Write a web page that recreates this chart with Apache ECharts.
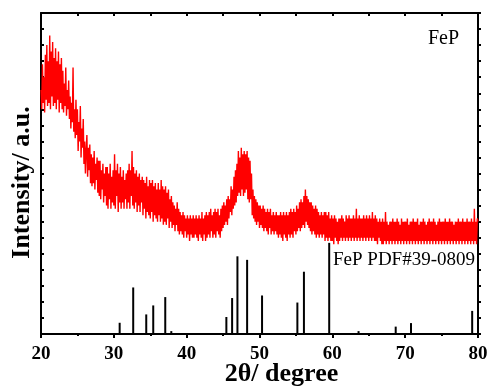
<!DOCTYPE html>
<html>
<head>
<meta charset="utf-8">
<script src="https://cdn.jsdelivr.net/npm/echarts@6/dist/echarts.min.js"></script>
<style>html,body{margin:0;padding:0;background:#fff}#c{width:492px;height:392px}</style>
</head>
<body>
<div id="c"></div>
<script>
// XRD scan: 2θ from 20 to 80 in 0.1° steps
const scanStart = 20;
const scanStep = 0.1;
const intensity = [
  76, 70, 84, 72, 80, 69, 87, 73, 90, 71,
  85, 72, 93, 70, 88, 74, 91, 71, 86, 72,
  89, 70, 85, 73, 88, 69, 84, 72, 86, 70,
  82, 69, 78, 71, 83, 68, 76, 70, 79, 67,
  74, 64, 72, 66, 83, 63, 70, 61, 73, 62,
  70, 57, 66, 60, 71, 55, 64, 58, 67, 53,
  60, 50, 57, 62, 49, 58, 51, 59, 47, 56,
  46, 55, 47, 57, 45, 53, 48, 55, 44, 54,
  43, 54, 42, 51, 45, 53, 41, 50, 43, 52,
  40, 52, 39, 50, 42, 53, 39, 49, 41, 51,
  40, 56, 39, 51, 43, 53, 38, 50, 41, 52,
  39, 49, 41, 51, 39, 48, 42, 50, 39, 51,
  41, 53, 39, 51, 43, 57, 40, 52, 39, 50,
  41, 51, 38, 49, 40, 50, 38, 48, 41, 49,
  37, 48, 39, 47, 36, 49, 38, 46, 37, 48,
  36, 47, 38, 48, 35, 46, 37, 47, 36, 45,
  35, 47, 37, 45, 35, 48, 36, 46, 34, 45,
  35, 46, 34, 44, 36, 45, 33, 42, 35, 43,
  33, 41, 34, 40, 32, 39, 34, 41, 32, 39,
  31, 38, 32, 37, 31, 38, 30, 37, 32, 36,
  30, 37, 31, 36, 29, 37, 31, 36, 30, 37,
  30, 36, 31, 37, 30, 36, 29, 37, 31, 36,
  30, 38, 29, 36, 31, 37, 29, 38, 30, 37,
  31, 38, 30, 39, 32, 37, 30, 38, 31, 39,
  30, 38, 32, 39, 31, 37, 30, 39, 32, 40,
  33, 41, 34, 40, 35, 42, 34, 43, 36, 42,
  38, 46, 37, 45, 39, 49, 40, 51, 41, 53,
  43, 57, 44, 55, 43, 58, 45, 56, 43, 57,
  44, 56, 45, 57, 42, 55, 41, 54, 42, 50,
  37, 45, 36, 43, 35, 42, 34, 41, 35, 40,
  33, 40, 34, 39, 33, 40, 32, 39, 33, 38,
  32, 39, 31, 38, 33, 39, 31, 37, 32, 38,
  31, 37, 32, 38, 31, 37, 30, 37, 31, 38,
  30, 37, 29, 38, 31, 37, 30, 38, 29, 37,
  31, 38, 30, 39, 31, 38, 30, 39, 32, 38,
  31, 40, 32, 39, 33, 41, 32, 42, 33, 41,
  34, 43, 33, 45, 35, 43, 34, 42, 33, 41,
  32, 41, 31, 40, 32, 39, 31, 40, 30, 39,
  31, 38, 30, 37, 31, 38, 30, 37, 31, 38,
  29, 38, 30, 37, 29, 38, 30, 36, 29, 37,
  29, 36, 28, 37, 30, 36, 29, 35, 28, 36,
  29, 36, 30, 37, 29, 36, 30, 35, 29, 37,
  30, 36, 29, 37, 30, 36, 29, 36, 30, 37,
  29, 36, 30, 39, 29, 36, 30, 37, 29, 36,
  30, 36, 29, 37, 30, 36, 29, 37, 30, 36,
  29, 37, 30, 36, 29, 38, 30, 36, 29, 37,
  29, 36, 28, 35, 30, 36, 29, 35, 28, 36,
  28, 35, 29, 38, 28, 35, 29, 34, 28, 35,
  29, 35, 28, 36, 29, 35, 28, 35, 29, 36,
  28, 35, 29, 34, 28, 36, 29, 35, 28, 35,
  29, 35, 28, 36, 29, 34, 28, 35, 29, 35,
  28, 36, 29, 35, 28, 35, 29, 36, 28, 34,
  29, 35, 28, 35, 29, 36, 28, 35, 29, 34,
  28, 35, 29, 36, 28, 35, 29, 35, 28, 36,
  29, 35, 28, 34, 29, 35, 28, 36, 29, 35,
  28, 35, 29, 35, 28, 36, 29, 35, 28, 35,
  29, 36, 28, 35, 29, 35, 28, 34, 29, 35,
  28, 35, 29, 36, 28, 35, 29, 35, 28, 36,
  29, 35, 28, 35, 29, 36, 28, 35, 29, 35,
  28, 36, 29, 35, 28, 39, 29, 35, 28, 36,
  35
];
// Reference pattern FeP PDF#39-0809
const pdfPos = [30.8, 32.66, 34.45, 35.41, 37.06, 37.89, 45.45, 46.24, 46.97, 48.3, 50.35, 55.2, 56.1, 59.57, 63.6, 68.7, 70.8, 79.2];
const pdfInt = [3.5, 14.5, 6.1, 8.9, 11.5, 0.9, 5.3, 11.2, 24.2, 23.1, 12.0, 9.8, 19.4, 28.4, 0.9, 2.3, 3.4, 7.2];
const xTicks = [20, 30, 40, 50, 60, 70, 80];

const curve = intensity.map((v, i) => [scanStart + i * scanStep, v]);
const sticks = pdfPos.map((p, i) => [p, pdfInt[i]]);

const serif = '"Liberation Serif", "Times New Roman", serif';
const axisLineStyle = {color: '#000', width: 2};
const chart = echarts.init(document.getElementById('c'), null, {renderer: 'canvas'});
chart.setOption({
  animation: false,
  backgroundColor: '#fff',
  grid: {left: 41, right: 14, top: 13, bottom: 58, containLabel: false, outerBoundsMode: 'none'},
  xAxis: [{
    type: 'value', min: 20, max: 80, interval: 10, position: 'bottom',
    axisLine: {show: true, onZero: false, lineStyle: axisLineStyle},
    axisTick: {show: true, inside: false, length: 4, lineStyle: axisLineStyle},
    minorTick: {show: true, splitNumber: 2, length: 2, lineStyle: axisLineStyle},
    splitLine: {show: false},
    axisLabel: {color: '#000', fontFamily: serif, fontWeight: 'bold', fontSize: 19, margin: 11,
      formatter: v => xTicks.includes(v) ? String(v) : ''},
    name: '2θ/ degree', nameLocation: 'middle', nameGap: 27, nameMoveOverlap: false,
    nameTextStyle: {color: '#000', fontFamily: serif, fontWeight: 'bold', fontSize: 26, padding: [0, 0, 0, 44]}
  }, {
    type: 'value', min: 20, max: 80, interval: 5, position: 'top',
    axisLine: {show: true, onZero: false, lineStyle: axisLineStyle},
    axisTick: {show: true, inside: true, length: 3, lineStyle: axisLineStyle},
    axisLabel: {show: false}, splitLine: {show: false}
  }],
  yAxis: [{
    type: 'value', min: 0, max: 100, interval: 5, position: 'left',
    axisLine: {show: true, onZero: false, lineStyle: axisLineStyle},
    axisTick: {show: true, inside: true, length: 3, lineStyle: axisLineStyle},
    axisLabel: {show: false}, splitLine: {show: false},
    name: 'Intensity/ a.u.', nameLocation: 'middle', nameGap: 6, nameMoveOverlap: false,
    nameTextStyle: {color: '#000', fontFamily: serif, fontWeight: 'bold', fontSize: 26, padding: [0, 18, 0, 0]}
  }, {
    type: 'value', min: 0, max: 100, interval: 5, position: 'right',
    axisLine: {show: true, onZero: false, lineStyle: axisLineStyle},
    axisTick: {show: true, inside: false, length: 3, lineStyle: axisLineStyle},
    axisLabel: {show: false}, splitLine: {show: false}
  }],
  series: [{
    type: 'line', data: curve, showSymbol: false, sampling: null,
    lineStyle: {color: '#ff0000', width: 1.4}, itemStyle: {color: '#ff0000'}, z: 2
  }, {
    type: 'bar', data: sticks, barWidth: 2, itemStyle: {color: '#000'}, z: 3
  }],
  graphic: [{
    type: 'text', left: 428, top: 29,
    style: {text: 'FeP', fontFamily: serif, fontSize: 20, fill: '#000'}
  }, {
    type: 'text', left: 333, top: 251,
    style: {text: 'FeP PDF#39-0809', fontFamily: serif, fontSize: 19, fill: '#000'}
  }]
});
</script>
</body>
</html>
